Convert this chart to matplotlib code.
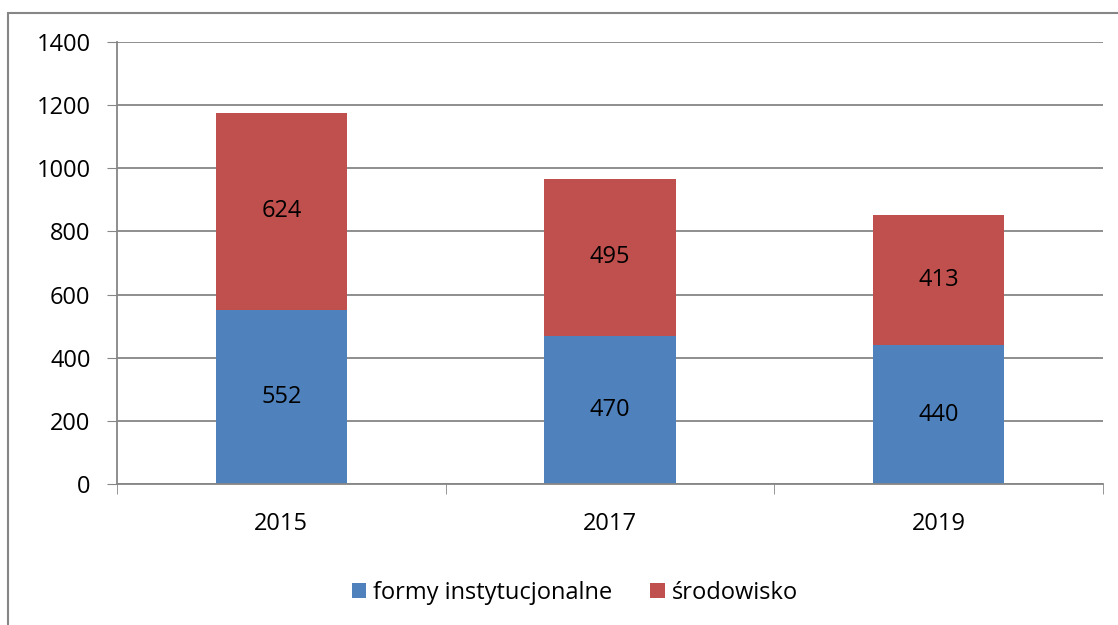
import matplotlib.pyplot as plt
import matplotlib.patches as mpatches
import numpy as np

years = ["2015", "2017", "2019"]
instytucjonalne = [552, 470, 440]
srodowisko = [624, 495, 413]
yticks = [0, 200, 400, 600, 800, 1000, 1200, 1400]

plt.rcParams["font.family"] = ["Open Sans", "DejaVu Sans"]
fs = 17

fig = plt.figure(figsize=(11.18, 6.25), dpi=100)
ax = fig.add_axes([117 / 1118, 1 - 484 / 625, (1103 - 117) / 1118, (484 - 42) / 625])

x = np.arange(len(years))
b1 = ax.bar(x, instytucjonalne, width=0.4, color="#4F81BD", label="formy instytucjonalne")
b2 = ax.bar(x, srodowisko, width=0.4, bottom=instytucjonalne, color="#C0504D", label="środowisko")
ax.bar_label(b1, label_type="center", fontsize=fs)
ax.bar_label(b2, label_type="center", fontsize=fs)

ax.set_xlim(-0.5, 2.5)
ax.set_ylim(0, 1400)
ax.set_yticks(yticks)
ax.tick_params(axis="y", labelsize=fs, length=7, color="#868686", pad=12)
ax.set_xticks(x)
ax.set_xticklabels(years, fontsize=fs)
ax.tick_params(axis="x", length=0, pad=20)
# category boundary ticks
ax.set_xticks([-0.5, 0.5, 1.5, 2.5], minor=True)
ax.tick_params(axis="x", which="minor", length=7, color="#868686")

ax.grid(axis="y", color="#868686", linewidth=1.3)
ax.set_axisbelow(True)
for side in ["top", "right"]:
    ax.spines[side].set_visible(False)
for side in ["left", "bottom"]:
    ax.spines[side].set_color("#868686")
    ax.spines[side].set_linewidth(1.3)

fig.legend(handles=[b1, b2], loc="center", bbox_to_anchor=(575 / 1118, 1 - 593 / 625),
           ncol=2, frameon=False, fontsize=fs, handlelength=0.6, handleheight=0.6,
           handletextpad=0.3, columnspacing=1.6)

border = mpatches.Rectangle((8 / 1118, -0.1), 1.2, 1 - 13 / 625 + 0.1, transform=fig.transFigure,
                            fill=False, edgecolor="#868686", linewidth=1.5)
fig.patches.append(border)

fig.savefig("out.png", dpi=100)
